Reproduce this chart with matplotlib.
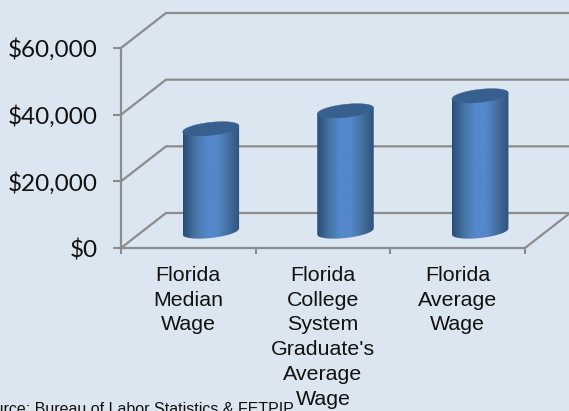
import numpy as np
import matplotlib
matplotlib.use('Agg')
import matplotlib.pyplot as plt
from matplotlib.colors import LinearSegmentedColormap
from matplotlib.patches import Polygon

categories = ["Florida\nMedian\nWage",
              "Florida\nCollege\nSystem\nGraduate's\nAverage\nWage",
              "Florida\nAverage\nWage"]
values = [30800, 36200, 40700]
y_ticks = [0, 20000, 40000, 60000]
y_labels = ['$0', '$20,000', '$40,000', '$60,000']
source = 'Source: Bureau of Labor Statistics & FETPIP'

W, H = 569, 411
BG = '#DCE6F1'
GRID = '#8C8C8C'

fig = plt.figure(figsize=(W / 100, H / 100), dpi=100, facecolor=BG)
ax = fig.add_axes([121 / W, 1 - 248 / H, 404 / W, 200 / H], facecolor=BG)

# fake 3d, depth of the box in data units
px_x = 3 / 404
px_y = 60000 / 200
dx = 45 * px_x
dy = 35 * px_y

# walls and floor
for t in y_ticks:
    ax.plot([0, dx, 3.5], [t, t + dy, t + dy], color=GRID, lw=1.6, clip_on=False, zorder=1)
ax.plot([3, 3 + dx], [0, dy], color=GRID, lw=1.6, clip_on=False, zorder=1)

for s in ['top', 'right']:
    ax.spines[s].set_visible(False)
for s in ['left', 'bottom']:
    ax.spines[s].set_color(GRID)
    ax.spines[s].set_linewidth(1.6)
    ax.spines[s].set_zorder(2)

ax.set_yticks(y_ticks)
ax.set_yticklabels(y_labels, fontfamily='Lato', fontsize=17.5, color='#111111')
ax.tick_params(axis='y', length=6, width=1.5, color=GRID, pad=11)
ax.set_xticks([0, 1, 2, 3])
ax.set_xticklabels([])
ax.tick_params(axis='x', which='major', length=4, width=1.5, color=GRID)
ax.set_xticks([0.5, 1.5, 2.5], minor=True)
ax.set_xticklabels(categories, minor=True, fontfamily='Liberation Sans', fontsize=15.4,
                   linespacing=1.38, color='#111111')
ax.tick_params(axis='x', which='minor', length=0, pad=13)

# cylinders
side = LinearSegmentedColormap.from_list('side', ['#2B4C78', '#44739F', '#5587CB', '#5587CB', '#446F9F', '#2F5380'])
half = 28.25 * px_x
shear = 3 * px_y
b = 6.5 * px_y
t = np.linspace(-1, 1, 80)
for i, v in enumerate(values):
    cx = i + 0.5 + dx / 2
    y0 = dy / 2 - 1 * px_y
    y1 = y0 + v
    xs = cx + half * t
    round_part = b * np.sqrt(1 - t ** 2)
    body = np.column_stack([np.r_[xs, xs[::-1]],
                            np.r_[y0 + shear * t - round_part, (y1 + shear * t)[::-1]]])
    clip = Polygon(body, closed=True, transform=ax.transData)
    im = ax.imshow(np.linspace(0, 1, 120).reshape(1, -1), cmap=side, aspect='auto',
                   extent=[cx - half, cx + half, 0, 60000], zorder=3)
    im.set_clip_path(clip)
    top = np.column_stack([np.r_[xs, xs[::-1]],
                           np.r_[y1 + shear * t - round_part, (y1 + shear * t + round_part)[::-1]]])
    ax.add_patch(Polygon(top, closed=True, facecolor='#38608F', edgecolor='#38608F', lw=0.3, zorder=4))
ax.set_xlim(0, 3)
ax.set_ylim(0, 60000)

fig.text(294 / W, 1 - 413.5 / H, source, ha='right', va='baseline', fontsize=11.55,
         fontfamily='Liberation Sans', color='#111111')

fig.savefig('out.png', dpi=100, facecolor=BG)
